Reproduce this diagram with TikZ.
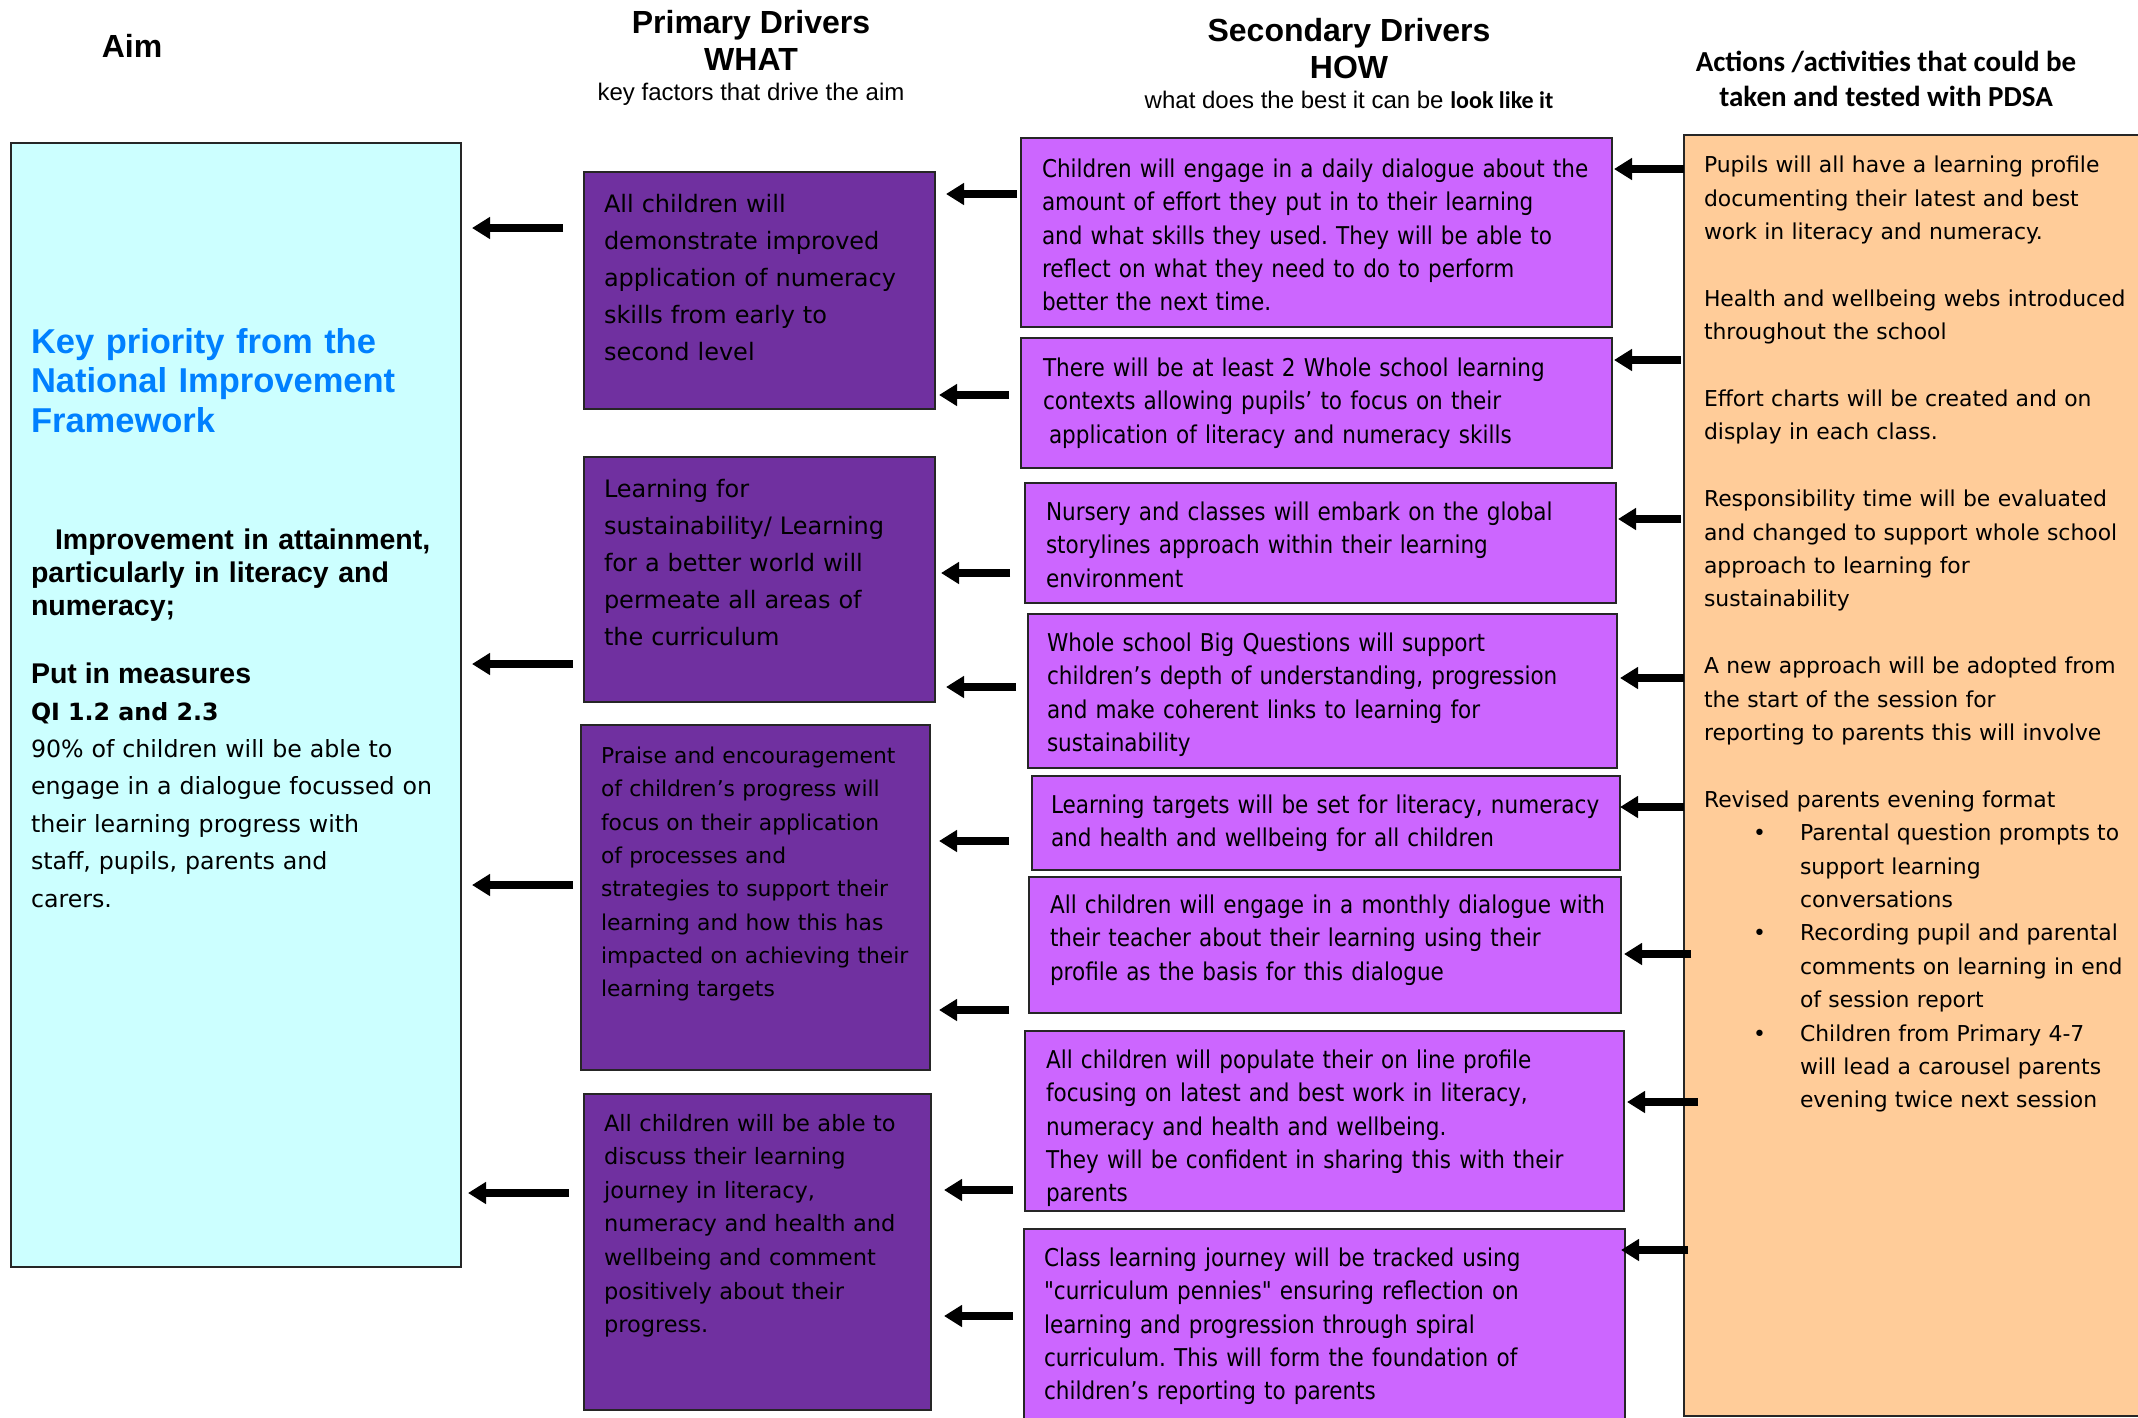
\documentclass[tikz,border=0pt]{standalone}
\usepackage{fontspec}
\setmainfont{DejaVu Sans}
\newfontfamily\comic{DejaVu Sans}
\newfontfamily\comicc[FakeStretch=0.88]{DejaVu Sans}
\newfontfamily\arial{Liberation Sans}
\newfontfamily\calib{Carlito}
\usetikzlibrary{arrows.meta,calc}
\definecolor{aimc}{HTML}{CCFFFF}
\definecolor{primc}{HTML}{7030A0}
\definecolor{secc}{HTML}{CC66FF}
\definecolor{actc}{HTML}{FFCC99}
\definecolor{keyblue}{HTML}{0080FF}
\newcommand\setfs[2]{\fontsize{#1pt}{#2pt}\selectfont}
\newcommand\actbul{\makebox[96pt][l]{\hspace*{49pt}•}}
\newcommand\actind{\hspace*{96pt}}
\frenchspacing
\begin{document}
\begin{tikzpicture}[x=1pt,y=-1pt,
  box/.style={draw=black!85, line width=2.5pt, anchor=north west, inner sep=0pt, outer sep=0pt},
  aimbox/.style={box, fill=aimc},
  pbox/.style={box, fill=primc},
  sbox/.style={box, fill=secc},
  abox/.style={box, fill=actc},
  txt/.style={anchor=north west, inner sep=0pt, outer sep=0pt, align=left, yshift=-3pt},
  ptxt/.style={txt, text width=345pt, font=\comic\setfs{24}{37}},
  stxt/.style={txt, text width=590pt, font=\comicc\setfs{24.5}{33.3}},
  head/.style={font=\arial\bfseries\setfs{32}{37}, align=center},
  sub/.style={font=\arial\setfs{24}{28}},
  arr/.style={line width=7.5pt, -{Triangle[length=18pt,width=21pt]}},
  ]
\useasboundingbox (0,0) rectangle (2138,1418);
\clip (0,0) rectangle (2138,1418);

% headers
\node[head] (hAim) at (132,46) {Aim};
\node[head] (hP) at (751,40) {Primary Drivers\\WHAT};
\node[sub] (hPs) at (751,94) {key factors that drive the aim};
\node[head] (hS) at (1349,49) {Secondary Drivers\\HOW};
\node[sub] (hSs) at (1349,100) {what does the best it can be {\calib\bfseries look like it}};
\node[font=\calib\bfseries\setfs{29}{35.5}, align=center] (hA) at (1886,79) {Actions /activities that could be\\taken and tested with PDSA};

% boxes
\node[aimbox, minimum width=450pt, minimum height=1124pt] (aim) at (11,143) {};
\node[pbox, minimum width=351pt, minimum height=237pt] (P1) at (584,172) {};
\node[pbox, minimum width=351pt, minimum height=245pt] (P2) at (584,457) {};
\node[pbox, minimum width=349pt, minimum height=345pt] (P3) at (581,725) {};
\node[pbox, minimum width=347pt, minimum height=316pt] (P4) at (584,1094) {};
\node[sbox, minimum width=591pt, minimum height=189pt] (S1) at (1021,138) {};
\node[sbox, minimum width=591pt, minimum height=130pt] (S2) at (1021,338) {};
\node[sbox, minimum width=591pt, minimum height=120pt] (S3) at (1025,483) {};
\node[sbox, minimum width=589pt, minimum height=154pt] (S4) at (1028,614) {};
\node[sbox, minimum width=588pt, minimum height=94pt] (S5) at (1032,776) {};
\node[sbox, minimum width=592pt, minimum height=136pt] (S6) at (1029,877) {};
\node[sbox, minimum width=599pt, minimum height=180pt] (S7) at (1025,1031) {};
\node[sbox, minimum width=601pt, minimum height=200pt] (S8) at (1024,1229) {};
\node[abox, minimum width=500pt, minimum height=1281pt] (act) at (1684,135) {};

% aim text
\node[txt, text width=425pt, font=\arial\bfseries\setfs{34.5}{39.5}, text=keyblue] (aimt1) at (31,325) {Key priority from the\\National Improvement\\Framework};
\node[txt, text width=425pt, font=\arial\bfseries\setfs{28.5}{32.7}] (aimt2) at (31,526) {\hspace*{24pt}Improvement in attainment,\\particularly in literacy and\\numeracy;};
\node[txt, font=\arial\bfseries\setfs{28.5}{32.7}] (aimt3) at (31,660) {Put in measures};
\node[txt, font=\comic\bfseries\setfs{23.7}{37.5}] (aimt4) at (31,699) {QI 1.2 and 2.3};
\node[txt, text width=425pt, font=\comic\setfs{23.7}{37.5}] (aimt5) at (31,736) {90\% of children will be able to\\engage in a dialogue focussed on\\their learning progress with\\staff, pupils, parents and\\carers.};

% primary text
\node[ptxt] (P1t) at (604,191) {All children will\\demonstrate improved\\application of numeracy\\skills from early to\\second level};
\node[ptxt] (P2t) at (604,476) {Learning for\\sustainability/ Learning\\for a better world will\\permeate all areas of\\the curriculum};
\node[ptxt, font=\comic\setfs{21.8}{33.3}] (P3t) at (601,744) {Praise and encouragement\\of children’s progress will\\focus on their application\\of processes and\\strategies to support their\\learning and how this has\\impacted on achieving their\\learning targets};
\node[ptxt, font=\comic\setfs{22.5}{33.6}] (P4t) at (604,1111) {All children will be able to\\discuss their learning\\journey in literacy,\\numeracy and health and\\wellbeing and comment\\positively about their\\progress.};

% secondary text
\node[stxt] (S1t) at (1042,156) {Children will engage in a daily dialogue about the\\amount of effort they put in to their learning\\and what skills they used. They will be able to\\reflect on what they need to do to perform\\better the next time.};
\node[stxt] (S2t) at (1043,355) {There will be at least 2 Whole school learning\\contexts allowing pupils’ to focus on their\\\hspace*{6pt}application of literacy and numeracy skills};
\node[stxt] (S3t) at (1046,499) {Nursery and classes will embark on the global\\storylines approach within their learning\\environment};
\node[stxt] (S4t) at (1047,630) {Whole school Big Questions will support\\children’s depth of understanding, progression\\and make coherent links to learning for\\sustainability};
\node[stxt] (S5t) at (1051,792) {Learning targets will be set for literacy, numeracy\\and health and wellbeing for all children};
\node[stxt] (S6t) at (1050,892) {All children will engage in a monthly dialogue with\\their teacher about their learning using their\\profile as the basis for this dialogue};
\node[stxt] (S7t) at (1046,1047) {All children will populate their on line profile\\focusing on latest and best work in literacy,\\numeracy and health and wellbeing.\\They will be confident in sharing this with their\\parents};
\node[stxt] (S8t) at (1044,1245) {Class learning journey will be tracked using\\"curriculum pennies" ensuring reflection on\\learning and progression through spiral\\curriculum. This will form the foundation of\\children’s reporting to parents};

% actions text
\node[txt, text width=440pt, font=\comic\setfs{21.9}{33.4}] (actt) at (1704,153) {Pupils will all have a learning profile\\documenting their latest and best\\work in literacy and numeracy.\\[33.4pt]Health and wellbeing webs introduced\\throughout the school\\[33.4pt]Effort charts will be created and on\\display in each class.\\[33.4pt]Responsibility time will be evaluated\\and changed to support whole school\\approach to learning for\\sustainability\\[33.4pt]A new approach will be adopted from\\the start of the session for\\reporting to parents this will involve\\[33.4pt]Revised parents evening format\\\actbul Parental question prompts to\\\actind support learning\\\actind conversations\\\actbul Recording pupil and parental\\\actind comments on learning in end\\\actind of session report\\\actbul Children from Primary 4-7\\\actind will lead a carousel parents\\\actind evening twice next session};

% primary -> aim
\draw[arr] ($(P1.west|-0,228)+(-21,0)$) -- ($(aim.east|-0,228)+(11,0)$);
\draw[arr] ($(P2.west|-0,664)+(-11,0)$) -- ($(aim.east|-0,664)+(11,0)$);
\draw[arr] ($(P3.west|-0,885)+(-8,0)$) -- ($(aim.east|-0,885)+(11,0)$);
\draw[arr] ($(P4.west|-0,1193)+(-15,0)$) -- ($(aim.east|-0,1193)+(7,0)$);
% secondary -> primary
\draw[arr] ($(S1.west|-0,194)+(-4,0)$) -- ($(P1.east|-0,194)+(11,0)$);
\draw[arr] ($(S2.west|-0,395)+(-12,0)$) -- ($(P1.east|-0,395)+(4,0)$);
\draw[arr] ($(S3.west|-0,573)+(-15,0)$) -- ($(P2.east|-0,573)+(6,0)$);
\draw[arr] ($(S4.west|-0,687)+(-12,0)$) -- ($(P2.east|-0,687)+(11,0)$);
\draw[arr] ($(S5.west|-0,841)+(-23,0)$) -- ($(P3.east|-0,841)+(9,0)$);
\draw[arr] ($(S6.west|-0,1010)+(-20,0)$) -- ($(P3.east|-0,1010)+(9,0)$);
\draw[arr] ($(S7.west|-0,1190)+(-12,0)$) -- ($(P4.east|-0,1190)+(13,0)$);
\draw[arr] ($(S8.west|-0,1316)+(-11,0)$) -- ($(P4.east|-0,1316)+(13,0)$);
% actions -> secondary
\draw[arr] ($(act.west|-0,169)+(0,0)$) -- ($(S1.east|-0,169)+(2,0)$);
\draw[arr] ($(act.west|-0,360)+(-3,0)$) -- ($(S2.east|-0,360)+(2,0)$);
\draw[arr] ($(act.west|-0,519)+(-3,0)$) -- ($(S3.east|-0,519)+(2,0)$);
\draw[arr] ($(act.west|-0,678)+(0,0)$) -- ($(S4.east|-0,678)+(3,0)$);
\draw[arr] ($(act.west|-0,807)+(0,0)$) -- ($(S5.east|-0,807)+(0,0)$);
\draw[arr] ($(act.west|-0,954)+(7,0)$) -- ($(S6.east|-0,954)+(3,0)$);
\draw[arr] ($(act.west|-0,1102)+(14,0)$) -- ($(S7.east|-0,1102)+(3,0)$);
\draw[arr] ($(act.west|-0,1250)+(4,0)$) -- ($(S8.east|-0,1250)+(-4,0)$);
\end{tikzpicture}
\end{document}
